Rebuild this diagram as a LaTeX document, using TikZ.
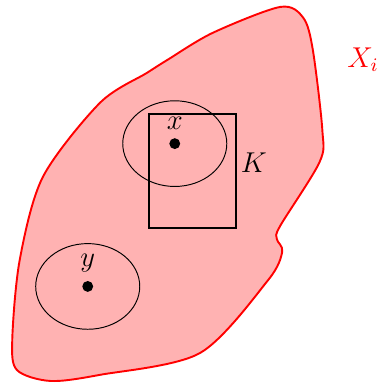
\documentclass[tikz,border=0pt]{standalone}
\usepackage{amsmath}
\usepackage{tikz}
\usetikzlibrary{positioning}

\begin{document}
\begin{tikzpicture}[every node/.style={font=\large}]
		\tikzstyle{dot}=[fill=black,shape=circle,inner sep=0pt,minimum size=0.16cm]
		\tikzstyle{nbhd}=[draw=black,thin]
		\useasboundingbox (0,0) rectangle (5.588,5.632);

    % The set X_i
		\draw[red,thick,fill=red!30] plot[smooth cycle,tension=0.5] coordinates {
			(2.46,4.75) (3.13,5.15) (4.12,5.53) (4.46,5.37) (4.60,4.90)
			(4.74,3.72) (4.70,3.25) (4.12,2.31) (4.07,2.12) (4.15,1.93) (3.94,1.51)
			(2.94,0.44) (1.47,0.12) (0.74,0.03) (0.25,0.19) (0.18,0.63)
			(0.29,1.81) (0.63,3.03) (1.47,4.12) (2.16,4.56)};
		\node[red](Xi) at (5.34,4.75){$X_i$};

    % Compact set K
		\node[draw,thick,minimum width=1.28cm,minimum height=1.68cm](K) at (2.83,3.12){};
		\node(Klab) at ([xshift=0.25cm,yshift=0.12cm]K.east){$K$};

    % Points and neighbourhoods
		\node[dot](px) at (2.57,3.52){};
		\node[above=0pt of px](lx){$x$};
		\draw[nbhd] (px) ellipse (0.765cm and 0.63cm);

		\node[dot](py) at (1.29,1.42){};
		\node[above=0pt of py](ly){$y$};
		\draw[nbhd] (py) ellipse (0.765cm and 0.63cm);
  \end{tikzpicture}
\end{document}
